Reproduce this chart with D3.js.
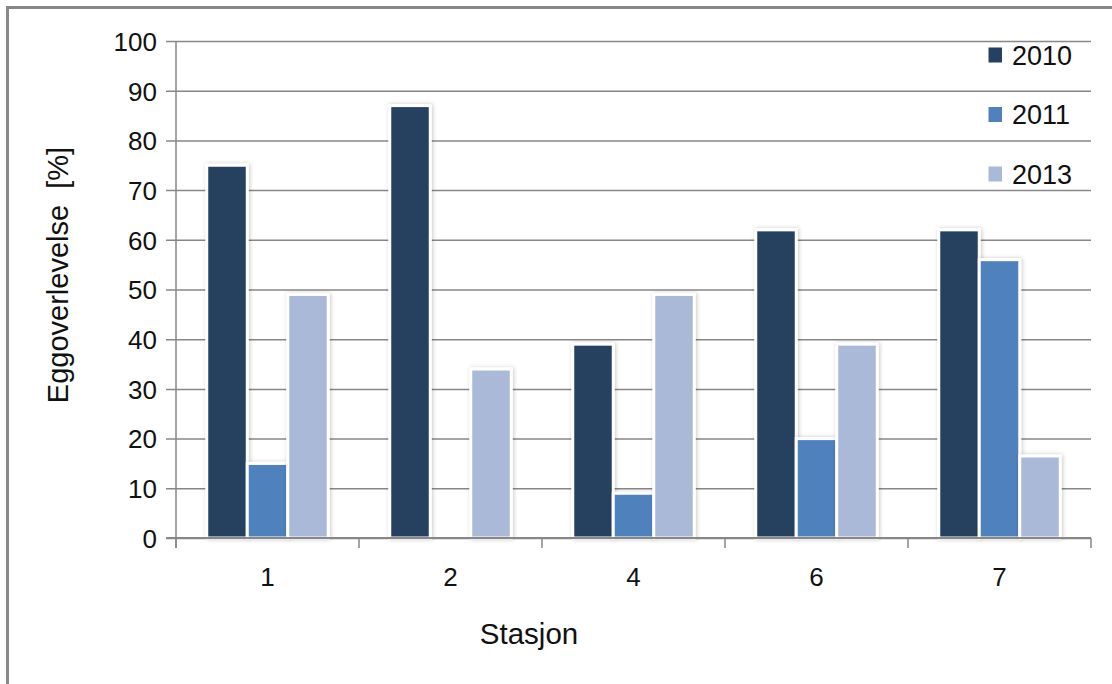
<!DOCTYPE html>
<html>
<head>
<meta charset="utf-8">
<script src="https://cdn.jsdelivr.net/npm/d3@7"></script>
<style>
  html, body { margin: 0; padding: 0; background: #fff; }
  svg { display: block; }
  text { font-family: "Liberation Sans", Arial, sans-serif; fill: #111; }
</style>
</head>
<body>
<svg id="chart" width="1112" height="684"></svg>
<script>
// Egg survival per station and year
const stations = ["1", "2", "4", "6", "7"];
const years = ["2010", "2011", "2013"];
const survival2010 = [75, 87, 39, 62, 62];
const survival2011 = [15, null, 9, 20, 56];
const survival2013 = [49, 34, 49, 39, 16.5];
const yTicks = [0, 10, 20, 30, 40, 50, 60, 70, 80, 90, 100];
const colors = ["#254061", "#4f81bd", "#aab9d7"];

const seriesValues = [survival2010, survival2011, survival2013];

const svg = d3.select("#chart");
const plot = { left: 176, right: 1091, top: 41, bottom: 538 };

// Shadow used behind every bar
const defs = svg.append("defs");
const f = defs.append("filter").attr("id", "barShadow")
  .attr("x", "-40%").attr("y", "-10%").attr("width", "180%").attr("height", "120%");
f.append("feDropShadow").attr("dx", 1).attr("dy", 0).attr("stdDeviation", 2.2)
  .attr("flood-color", "#000").attr("flood-opacity", 0.22);

// Outer frame (left and top edges)
svg.append("path")
  .attr("d", "M7.5,700 V7.5 H1200")
  .attr("fill", "none").attr("stroke", "#888").attr("stroke-width", 3);

const x = d3.scaleBand().domain(stations).range([plot.left, plot.right]).padding(0);
const pitch = 40.5;
const x1 = d3.scaleBand().domain(years)
  .range([x.bandwidth() / 2 - pitch * 1.5, x.bandwidth() / 2 + pitch * 1.5]).padding(0);
const y = d3.scaleLinear().domain([0, 100]).range([plot.bottom, plot.top]);

// Horizontal gridlines with value labels
const yAxis = svg.append("g")
  .attr("transform", `translate(${plot.left},0)`)
  .call(d3.axisLeft(y).tickValues(yTicks).tickSize(-(plot.right - plot.left)).tickPadding(19));
yAxis.select(".domain").remove();
yAxis.selectAll(".tick line")
  .attr("x1", -10).attr("stroke", "#878787").attr("stroke-width", 1.5);
yAxis.selectAll(".tick text")
  .style("font-family", "'Liberation Sans', Arial, sans-serif")
  .attr("font-size", 26).attr("fill", "#111").attr("dy", "0.36em");

// Vertical axis line
svg.append("line")
  .attr("x1", plot.left).attr("x2", plot.left).attr("y1", plot.top).attr("y2", plot.bottom + 10)
  .attr("stroke", "#878787").attr("stroke-width", 1.5);

// Bars
const groups = svg.append("g").selectAll("g")
  .data(stations)
  .join("g")
  .attr("transform", d => `translate(${x(d)},0)`);

groups.selectAll("rect")
  .data((d, i) => years.map((yr, k) => ({ yr, k, v: seriesValues[k][i] })).filter(e => e.v != null))
  .join("rect")
  .attr("x", d => x1(d.yr))
  .attr("width", x1.bandwidth())
  .attr("y", d => y(d.v))
  .attr("height", d => y(0) - y(d.v))
  .attr("fill", d => colors[d.k])
  .attr("stroke", "#fff")
  .attr("stroke-width", 3)
  .attr("filter", "url(#barShadow)");

// Category axis
svg.append("line")
  .attr("x1", plot.left - 10).attr("x2", plot.right).attr("y1", plot.bottom).attr("y2", plot.bottom)
  .attr("stroke", "#878787").attr("stroke-width", 2);
const boundaries = stations.map(s => x(s)).concat([x.range()[1]]);
svg.append("g").selectAll("line")
  .data(boundaries)
  .join("line")
  .attr("x1", d => d).attr("x2", d => d)
  .attr("y1", plot.bottom).attr("y2", plot.bottom + 10)
  .attr("stroke", "#878787").attr("stroke-width", 1.5);

const xAxis = svg.append("g")
  .attr("transform", `translate(0,${plot.bottom})`)
  .call(d3.axisBottom(x).tickSize(0).tickPadding(30));
xAxis.select(".domain").remove();
xAxis.selectAll(".tick text")
  .style("font-family", "'Liberation Sans', Arial, sans-serif")
  .attr("font-size", 26).attr("fill", "#111");

// Axis titles
svg.append("text")
  .attr("x", 529).attr("y", 644)
  .attr("text-anchor", "middle")
  .attr("font-size", 29.5)
  .text("Stasjon");

svg.append("text")
  .attr("transform", "translate(68,275) rotate(-90)")
  .attr("text-anchor", "middle")
  .attr("font-size", 29)
  .attr("xml:space", "preserve")
  .text("Eggoverlevelse  [%]");

// Legend
const legend = svg.append("g").selectAll("g")
  .data(years)
  .join("g")
  .attr("transform", (d, i) => `translate(988,${55 + i * 59.5})`);
legend.append("rect")
  .attr("x", 0).attr("y", -8).attr("width", 14.5).attr("height", 16)
  .attr("fill", (d, i) => colors[i])
  .attr("stroke", "#fff").attr("stroke-width", 1);
legend.append("text")
  .attr("x", 24).attr("y", 9.5)
  .attr("font-size", 27)
  .text(d => d);
</script>
</body>
</html>
